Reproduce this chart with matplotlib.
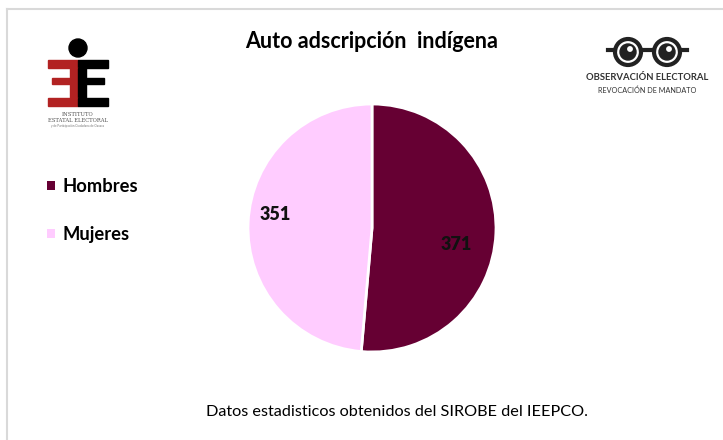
import matplotlib.pyplot as plt
from matplotlib.patches import Rectangle, Circle
from matplotlib.lines import Line2D

plt.rcParams['font.family'] = ['Lato', 'DejaVu Sans']

# Data
categories = ["Hombres", "Mujeres"]
values = [371, 351]
colors = ["#660033", "#FFCCFF"]

fig = plt.figure(figsize=(7.23, 4.4), dpi=100)
W, H = 723, 440

def fx(x):
    return x / W

def fy(y):
    return 1 - y / H

# outer frame (only top and left edges visible)
fig.add_artist(Line2D([fx(7), 1], [fy(9), fy(9)], color="#d9d9d9", lw=1.5))
fig.add_artist(Line2D([fx(7), fx(7)], [fy(9), 0], color="#d9d9d9", lw=1.5))

# Pie
r = 124
cx, cy = 372, 228
ax = fig.add_axes([fx(cx - r), fy(cy + r), 2 * r / W, 2 * r / H])
wedges, texts = ax.pie(values, colors=colors, startangle=90, counterclock=False, radius=1,
                       wedgeprops=dict(edgecolor="white", linewidth=2),
                       labels=[str(v) for v in values], labeldistance=0.7,
                       textprops=dict(fontsize=13, fontweight="heavy", color="#111111"))
texts[0].set_position((0.68, -0.13))
texts[1].set_position((-0.78, 0.11))
for t in texts:
    t.set_ha("center")
    t.set_va("center")
ax.set_xlim(-1, 1)
ax.set_ylim(-1, 1)
ax.set_aspect("equal")

# Title
fig.text(fx(372), fy(42), "Auto adscripción  indígena", ha="center", va="center",
         fontsize=15.5, fontweight="bold")

# Legend
for i, (cat, col) in enumerate(zip(categories, colors)):
    y = 186 + i * 48
    fig.add_artist(Rectangle((fx(47), fy(y + 4)), 8 / W, 9 / H, facecolor=col,
                             edgecolor="none", transform=fig.transFigure))
    fig.text(fx(63), fy(y), cat, ha="left", va="center", fontsize=13.2, fontweight="bold")

# Footer
fig.text(fx(397), fy(412), "Datos estadisticos obtenidos del SIROBE del IEEPCO.",
         ha="center", va="center", fontsize=11.7)

# Left logo (approximation)
lg = fig.add_axes([fx(40), fy(130), 80 / W, 95 / H])
lg.set_xlim(0, 80)
lg.set_ylim(0, 95)
lg.axis("off")
lg.add_patch(Circle((38, 82), 9, color="black"))
lg.add_patch(Rectangle((8, 62), 30, 8, color="#b22222"))
lg.add_patch(Rectangle((38, 62), 30, 8, color="black"))
lg.add_patch(Rectangle((30, 30), 8, 32, color="#b22222"))
lg.add_patch(Rectangle((38, 30), 8, 32, color="black"))
lg.add_patch(Rectangle((12, 46), 18, 6, color="#b22222"))
lg.add_patch(Rectangle((46, 46), 18, 6, color="black"))
lg.add_patch(Rectangle((8, 24), 30, 8, color="#b22222"))
lg.add_patch(Rectangle((38, 24), 30, 8, color="black"))
lg.text(38, 16, "INSTITUTO", ha="center", va="center", fontsize=3.8, family="DejaVu Serif", color="#555555")
lg.text(38, 10, "ESTATAL ELECTORAL", ha="center", va="center", fontsize=3.8, family="DejaVu Serif", color="#555555")
lg.text(38, 4, "y de Participación Ciudadana de Oaxaca", ha="center", va="center", fontsize=2.2, color="#777777")

# Right logo (approximation)
rg = fig.add_axes([fx(580), fy(100), 135 / W, 70 / H])
rg.set_xlim(0, 135)
rg.set_ylim(0, 70)
rg.axis("off")
rg.set_aspect("equal")
for gx in (48, 87):
    rg.add_patch(Circle((gx, 48), 13, facecolor="white", edgecolor="#222222", lw=3))
    rg.add_patch(Circle((gx, 48), 8, color="#222222"))
    rg.add_patch(Circle((gx + 2, 51), 2.2, color="white"))
rg.plot([61, 74], [50, 50], color="#222222", lw=3)
rg.plot([28, 35], [50, 50], color="#222222", lw=3)
rg.plot([100, 107], [50, 50], color="#222222", lw=3)
rg.text(67, 22, "OBSERVACIÓN ELECTORAL", ha="center", va="center", fontsize=6.8,
        fontweight="bold", color="#333333")
rg.text(67, 10, "REVOCACIÓN DE MANDATO", ha="center", va="center", fontsize=5.2, color="#333333")

fig.savefig("out.png", dpi=100)
